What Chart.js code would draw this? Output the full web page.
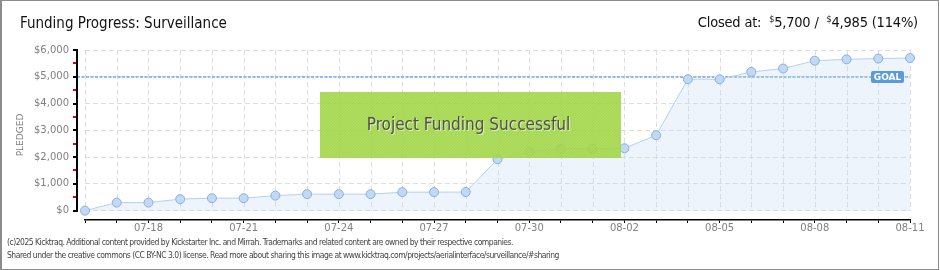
<!DOCTYPE html>
<html>
<head>
<meta charset="utf-8">
<script src="https://cdn.jsdelivr.net/npm/chart.js@4.4.1/dist/chart.umd.min.js"></script>
<style>
  html, body { margin: 0; padding: 0; background: #fff; }
  #wrap { position: relative; width: 940px; height: 270px; overflow: hidden; }
  #chart { position: absolute; left: 0; top: 0; }
  #frame { position: absolute; left: 0; top: 0; width: 939px; height: 270px; box-sizing: border-box;
           border: 1px solid #8c8c8c; border-left-width: 2px; pointer-events: none; }
  .head { position: absolute; top: 14px; font: 15px "DejaVu Sans Condensed", "DejaVu Sans"; color: #111; white-space: nowrap; }
  #title { left: 20px; }
  #closed { right: 22px; font-size: 14.5px; letter-spacing: -0.2px; }
  #closed sup { font-size: 9px; vertical-align: 5px; }
  .foot { position: absolute; left: 7px; font: 8.5px "Liberation Sans Narrow", "DejaVu Sans Condensed"; letter-spacing: -0.5px;
          color: #444; white-space: nowrap; }
</style>
</head>
<body>
<div id="wrap">
  <canvas id="chart" width="940" height="270"></canvas>
  <div class="head" id="title">Funding Progress: Surveillance</div>
  <div class="head" id="closed">Closed at:&nbsp; <sup>$</sup>5,700 /&nbsp; <sup>$</sup>4,985 (114%)</div>
  <div class="foot" style="top:237px">(c)2025 Kicktraq. Additional content provided by Kickstarter Inc. and Mirrah. Trademarks and related content are owned by their respective companies.</div>
  <div class="foot" style="top:250px">Shared under the creative commons (CC BY-NC 3.0) license. Read more about sharing this image at www.kicktraq.com/projects/aerialinterface/surveillance/#sharing</div>
  <div id="frame"></div>
</div>
<script>
const days = [
  "07-16", "07-17", "07-18", "07-19", "07-20", "07-21", "07-22", "07-23", "07-24",
  "07-25", "07-26", "07-27", "07-28", "07-29", "07-30", "07-31", "08-01", "08-02",
  "08-03", "08-04", "08-05", "08-06", "08-07", "08-08", "08-09", "08-10", "08-11"
];
const pledged = [
  0, 300, 300, 430, 465, 465, 560, 615, 615,
  615, 690, 690, 695, 1920, 2200, 2315, 2315, 2330,
  2815, 4910, 4905, 5180, 5310, 5600, 5650, 5680, 5700
];
const goal = 4985;
const yTicks = [0, 1000, 2000, 3000, 4000, 5000, 6000];
const yMinorTicks = [500, 1500, 2500, 3500, 4500, 5500];

function money(v) { return "$" + Number(v).toLocaleString("en-US"); }

const decorations = {
  id: "decorations",
  beforeDatasetsDraw(chart) {
    const { ctx, chartArea: a, scales: { x, y } } = chart;
    const y0 = y.getPixelForValue(0);
    ctx.save();
    // vertical grid, stops at $0
    ctx.strokeStyle = "#dedede";
    ctx.lineWidth = 1;
    ctx.setLineDash([5, 3]);
    x.ticks.forEach((t, i) => {
      const px = Math.round(x.getPixelForTick(i)) + 0.5;
      ctx.beginPath();
      ctx.moveTo(px, a.top);
      ctx.lineTo(px, y0);
      ctx.stroke();
    });
    // goal line
    const gy = Math.round(y.getPixelForValue(goal));
    ctx.strokeStyle = "#8dbdec";
    ctx.lineWidth = 2;
    ctx.setLineDash([3, 1.5]);
    ctx.beginPath();
    ctx.moveTo(a.left - 8, gy);
    ctx.lineTo(a.right, gy);
    ctx.stroke();
    ctx.restore();
  },
  afterDatasetsDraw(chart) {
    const { ctx, chartArea: a, scales: { y } } = chart;
    ctx.save();
    ctx.setLineDash([]);
    // GOAL tag
    const gy = Math.round(y.getPixelForValue(goal));
    ctx.fillStyle = "#5b9bd9";
    ctx.beginPath();
    ctx.roundRect(a.right - 39, gy - 6, 33, 12, 2);
    ctx.fill();
    ctx.fillStyle = "#fff";
    ctx.font = "bold 9px 'DejaVu Sans'";
    ctx.textAlign = "center";
    ctx.textBaseline = "middle";
    ctx.fillText("GOAL", a.right - 22.5, gy + 0.5);

    // success banner
    ctx.globalAlpha = 0.9;
    ctx.fillStyle = "#a5d94d";
    ctx.fillRect(320, 92, 301, 66);
    ctx.save();
    ctx.globalAlpha = 0.08;
    ctx.strokeStyle = "#4a7a10";
    ctx.lineWidth = 1;
    ctx.beginPath();
    ctx.rect(320, 92, 301, 66);
    ctx.clip();
    ctx.beginPath();
    for (let k = -70; k < 310; k += 3) {
      ctx.moveTo(320 + k, 158);
      ctx.lineTo(320 + k + 66, 92);
    }
    ctx.stroke();
    ctx.restore();
    ctx.globalAlpha = 1;
    ctx.font = "17px 'DejaVu Sans Condensed'";
    ctx.textAlign = "center";
    ctx.textBaseline = "middle";
    ctx.fillStyle = "rgba(255,255,255,0.6)";
    ctx.fillText("Project Funding Successful", 469.5, 127);
    ctx.fillStyle = "#505050";
    ctx.fillText("Project Funding Successful", 468.5, 126);
    ctx.restore();
  },
  afterDraw(chart) {
    const { ctx, chartArea: a, scales: { y } } = chart;
    ctx.save();
    ctx.setLineDash([]);
    ctx.globalAlpha = 1;
    // y axis line with ticks, from $0 to $6,000 only
    const ax = a.left - 8;
    const top = Math.round(y.getPixelForValue(6000)), bot = Math.round(y.getPixelForValue(0));
    ctx.fillStyle = "#000000";
    ctx.fillRect(ax - 1, top - 1, 2, bot - top + 2);
    yTicks.forEach(v => {
      const py = Math.round(y.getPixelForValue(v));
      ctx.fillRect(ax - 4, py - 1, 4, 2);
    });
    ctx.fillStyle = "#e00000";
    yMinorTicks.forEach(v => {
      const py = Math.round(y.getPixelForValue(v));
      ctx.fillRect(ax - 4, py - 1, 3, 2);
    });
    ctx.restore();
  }
};

new Chart(document.getElementById("chart"), {
  type: "line",
  data: {
    labels: days,
    datasets: [{
      data: pledged,
      borderColor: "#b3d1f1",
      borderWidth: 1,
      tension: 0,
      fill: { target: "origin", above: "rgba(190,215,245,0.28)" },
      pointRadius: 4.5,
      pointBackgroundColor: "#bfd9f6",
      pointBorderColor: "#8eaed4",
      pointBorderWidth: 1,
    }],
  },
  options: {
    responsive: false,
    animation: false,
    layout: { padding: { top: 50, right: 30, bottom: 0, left: 0 } },
    plugins: { legend: { display: false }, tooltip: { enabled: false } },
    scales: {
      x: {
        type: "category",
        offset: false,
        afterFit: (s) => { s.height = 50; },
        border: { color: "#000", width: 1.5 },
        grid: { drawOnChartArea: false, drawTicks: true, tickLength: 3, tickColor: "#000", tickWidth: 1 },
        ticks: {
          autoSkip: false,
          maxRotation: 0,
          padding: -1,
          color: "#808080",
          font: { family: "DejaVu Sans", size: 10 },
          callback: (v, i) => (i % 3 === 2 ? days[i] : ""),
        },
      },
      y: {
        min: -350,
        max: 6000,
        afterFit: (s) => { s.width = 85; },
        afterBuildTicks: (s) => { s.ticks = yTicks.map(v => ({ value: v })); },
        border: { display: false, dash: [5, 3] },
        grid: { color: "#dedede", drawTicks: false },
        ticks: {
          padding: 16,
          color: "#808080",
          font: { family: "DejaVu Sans", size: 10 },
          callback: (v) => money(v),
        },
        title: {
          display: true,
          text: "PLEDGED",
          color: "#808080",
          font: { family: "DejaVu Sans", size: 9 },
          padding: { top: 15, bottom: 0 },
        },
      },
    },
  },
  plugins: [decorations],
});
</script>
</body>
</html>
